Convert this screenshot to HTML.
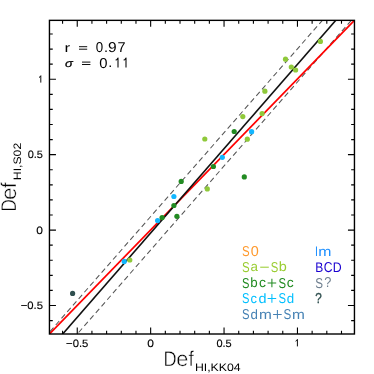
<!DOCTYPE html><html><head><meta charset="utf-8"><style>html,body{margin:0;padding:0;background:#fff;}svg{display:block;will-change:transform}text{text-rendering:geometricPrecision;font-family:"Liberation Sans",sans-serif;}</style></head><body>
<svg width="374" height="374" viewBox="0 0 374 374">
<rect width="374" height="374" fill="#fff"/>
<defs><clipPath id="c"><rect x="49.45" y="20.35" width="305.0" height="313.65"/></clipPath></defs>
<g clip-path="url(#c)" fill="none">
<line x1="30" y1="354.42" x2="370" y2="-34.07" stroke="#565656" stroke-width="1.05" stroke-dasharray="5.3 3.4" stroke-dashoffset="4.4"/>
<line x1="30" y1="388.15" x2="370" y2="-1.10" stroke="#565656" stroke-width="1.05" stroke-dasharray="5.3 3.4" stroke-dashoffset="4.4"/>
<line x1="49.45" y1="334.0" x2="354.45" y2="20.35" stroke="#ff0000" stroke-width="1.75"/>
<line x1="30" y1="371.56" x2="370" y2="-18.98" stroke="#111" stroke-width="1.6"/>
</g>
<circle cx="72.6" cy="293.4" r="2.6" fill="#2f4f4f"/>
<circle cx="124.2" cy="261.4" r="2.6" fill="#12b6ff"/>
<circle cx="129.8" cy="260.0" r="2.6" fill="#8fc93a"/>
<circle cx="157.6" cy="220.6" r="2.6" fill="#12b6ff"/>
<circle cx="162.1" cy="217.6" r="2.6" fill="#228b22"/>
<circle cx="173.9" cy="196.5" r="2.6" fill="#12b6ff"/>
<circle cx="173.9" cy="205.5" r="2.6" fill="#228b22"/>
<circle cx="176.9" cy="216.3" r="2.6" fill="#228b22"/>
<circle cx="181.2" cy="181.4" r="2.6" fill="#228b22"/>
<circle cx="204.8" cy="139.0" r="2.6" fill="#8fc93a"/>
<circle cx="207.3" cy="188.9" r="2.6" fill="#8fc93a"/>
<circle cx="213.4" cy="166.5" r="2.6" fill="#228b22"/>
<circle cx="222.3" cy="157.3" r="2.6" fill="#12b6ff"/>
<circle cx="234.2" cy="131.5" r="2.6" fill="#228b22"/>
<circle cx="242.8" cy="116.6" r="2.6" fill="#8fc93a"/>
<circle cx="244.3" cy="176.9" r="2.6" fill="#228b22"/>
<circle cx="247.3" cy="139.2" r="2.6" fill="#8fc93a"/>
<circle cx="251.6" cy="131.7" r="2.6" fill="#12b6ff"/>
<circle cx="262.1" cy="113.6" r="2.6" fill="#8fc93a"/>
<circle cx="264.9" cy="91.2" r="2.6" fill="#8fc93a"/>
<circle cx="285.5" cy="59.2" r="2.6" fill="#8fc93a"/>
<circle cx="291.3" cy="67.0" r="2.6" fill="#8fc93a"/>
<circle cx="295.6" cy="70.0" r="2.6" fill="#8fc93a"/>
<circle cx="320.4" cy="41.4" r="2.6" fill="#8fc93a"/>
<rect x="49.45" y="20.35" width="305.0" height="313.65" fill="none" stroke="#000" stroke-width="1.4"/>
<path d="M62.57 334.0v-3.3M62.57 20.35v3.3M49.45 320.58h3.3M354.45 320.58h-3.3M77.25 334.0v-6.5M77.25 20.35v6.5M49.45 305.50h6.5M354.45 305.50h-6.5M91.93 334.0v-3.3M91.93 20.35v3.3M49.45 290.41h3.3M354.45 290.41h-3.3M106.61 334.0v-3.3M106.61 20.35v3.3M49.45 275.33h3.3M354.45 275.33h-3.3M121.29 334.0v-3.3M121.29 20.35v3.3M49.45 260.25h3.3M354.45 260.25h-3.3M135.97 334.0v-3.3M135.97 20.35v3.3M49.45 245.16h3.3M354.45 245.16h-3.3M150.65 334.0v-6.5M150.65 20.35v6.5M49.45 230.08h6.5M354.45 230.08h-6.5M165.33 334.0v-3.3M165.33 20.35v3.3M49.45 215.00h3.3M354.45 215.00h-3.3M180.01 334.0v-3.3M180.01 20.35v3.3M49.45 199.91h3.3M354.45 199.91h-3.3M194.69 334.0v-3.3M194.69 20.35v3.3M49.45 184.83h3.3M354.45 184.83h-3.3M209.37 334.0v-3.3M209.37 20.35v3.3M49.45 169.75h3.3M354.45 169.75h-3.3M224.05 334.0v-6.5M224.05 20.35v6.5M49.45 154.67h6.5M354.45 154.67h-6.5M238.73 334.0v-3.3M238.73 20.35v3.3M49.45 139.58h3.3M354.45 139.58h-3.3M253.41 334.0v-3.3M253.41 20.35v3.3M49.45 124.50h3.3M354.45 124.50h-3.3M268.09 334.0v-3.3M268.09 20.35v3.3M49.45 109.42h3.3M354.45 109.42h-3.3M282.77 334.0v-3.3M282.77 20.35v3.3M49.45 94.33h3.3M354.45 94.33h-3.3M297.45 334.0v-6.5M297.45 20.35v6.5M49.45 79.25h6.5M354.45 79.25h-6.5M312.13 334.0v-3.3M312.13 20.35v3.3M49.45 64.17h3.3M354.45 64.17h-3.3M326.81 334.0v-3.3M326.81 20.35v3.3M49.45 49.08h3.3M354.45 49.08h-3.3M341.49 334.0v-3.3M341.49 20.35v3.3M49.45 34.00h3.3M354.45 34.00h-3.3" stroke="#000" stroke-width="1.1" fill="none"/>
<path d="M295.6 341.2L296.8 340.4L297.4 339.4V346.4M39 77.5L40.2 76.7L40.8 75.7V82.6" fill="none" stroke="#000" stroke-width="0.95" stroke-linejoin="round"/>
<text x="77.25" y="346.9" font-size="10.6" text-anchor="middle" textLength="22.3" lengthAdjust="spacingAndGlyphs" stroke="#000" stroke-width="0.12">−0.5</text>
<text x="43.0" y="309.195" font-size="10.6" text-anchor="end" textLength="22.3" lengthAdjust="spacingAndGlyphs" stroke="#000" stroke-width="0.12">−0.5</text>
<text x="150.65" y="346.9" font-size="10.6" text-anchor="middle" textLength="6.7" lengthAdjust="spacingAndGlyphs" stroke="#000" stroke-width="0.12">0</text>
<text x="43.0" y="233.78" font-size="10.6" text-anchor="end" textLength="6.7" lengthAdjust="spacingAndGlyphs" stroke="#000" stroke-width="0.12">0</text>
<text x="224.05" y="346.9" font-size="10.6" text-anchor="middle" textLength="15.3" lengthAdjust="spacingAndGlyphs" stroke="#000" stroke-width="0.12">0.5</text>
<text x="43.0" y="158.365" font-size="10.6" text-anchor="end" textLength="15.3" lengthAdjust="spacingAndGlyphs" stroke="#000" stroke-width="0.12">0.5</text>
<g font-size="13.6">
<text transform="translate(64.58 51.9) scale(1.250 0.94)">r</text>
<text transform="translate(95.81 52.05) scale(0.980 1.05)">0</text>
<text transform="translate(104.07 51.9) scale(1.072 1.0)">.</text>
<text transform="translate(108.00 52.05) scale(1.141 1.05)">9</text>
<text transform="translate(117.62 51.9) scale(1.065 1.05)">7</text>
<text transform="translate(99.27 67.55) scale(1.091 1.05)">0</text>
<text transform="translate(108.17 67.4) scale(1.072 1.0)">.</text>
<text transform="translate(64.97 66.8) scale(0.954 0.8)" font-style="italic" stroke="#000" stroke-width="0.35">σ</text>
</g>
<path d="M79 46.7H87.2M79 49.2H87.2M82 62.1H90.4M82 64.5H90.4" fill="none" stroke="#000" stroke-width="0.95"/>
<path d="M115.7 60.3L117.1 59.4L118 58.05V67.4M123.7 60.3L125.1 59.4L126 58.05V67.4" fill="none" stroke="#000" stroke-width="1.05" stroke-linejoin="round"/>
<g font-size="13.4">
<text transform="translate(241.98 255.80) scale(0.855 1.07)" fill="#ff9a2e">S</text>
<text transform="translate(250.84 255.80) scale(1.077 1.07)" fill="#ff9a2e">0</text>
<text transform="translate(241.98 271.50) scale(0.855 1.07)" fill="#9acd32">S</text>
<text transform="translate(250.44 271.20) scale(1.002 1)" fill="#9acd32">a</text>
<text transform="translate(270.69 271.50) scale(0.842 1.07)" fill="#9acd32">S</text>
<text transform="translate(278.78 271.20) scale(1.078 1)" fill="#9acd32">b</text>
<text transform="translate(242.00 287.50) scale(0.829 1.07)" fill="#228b22">S</text>
<text transform="translate(250.15 287.20) scale(0.995 1)" fill="#228b22">b</text>
<text transform="translate(259.02 287.20) scale(1.036 1)" fill="#228b22">c</text>
<text transform="translate(278.39 287.50) scale(0.842 1.07)" fill="#228b22">S</text>
<text transform="translate(286.82 287.20) scale(1.036 1)" fill="#228b22">c</text>
<text transform="translate(242.00 303.20) scale(0.829 1.07)" fill="#00bfff">S</text>
<text transform="translate(250.46 302.90) scale(0.967 1)" fill="#00bfff">c</text>
<text transform="translate(258.49 302.90) scale(1.078 1)" fill="#00bfff">d</text>
<text transform="translate(278.39 303.20) scale(0.842 1.07)" fill="#00bfff">S</text>
<text transform="translate(286.84 302.90) scale(0.995 1)" fill="#00bfff">d</text>
<text transform="translate(241.99 318.90) scale(0.842 1.07)" fill="#4682b4">S</text>
<text transform="translate(250.44 318.60) scale(0.995 1)" fill="#4682b4">d</text>
<text transform="translate(258.98 318.60) scale(1.150 1)" fill="#4682b4">m</text>
<text transform="translate(283.58 318.90) scale(0.868 1.07)" fill="#4682b4">S</text>
<text transform="translate(292.08 318.60) scale(1.150 1)" fill="#4682b4">m</text>
<text transform="translate(315.12 255.80) scale(0.794 1.03)" fill="#1e90ff">I</text>
<text transform="translate(318.15 255.80) scale(1.182 1)" fill="#1e90ff">m</text>
<text transform="translate(315.21 271.70) scale(0.898 1.03)" fill="#1a00d0">B</text>
<text transform="translate(323.68 272.00) scale(0.908 1.07)" fill="#1a00d0">C</text>
<text transform="translate(332.69 271.70) scale(0.920 1.03)" fill="#1a00d0">D</text>
<text transform="translate(315.28 287.50) scale(0.868 1.07)" fill="#708090">S</text>
<text transform="translate(324.18 287.20) scale(0.952 1.07)" fill="#708090">?</text>
<text transform="translate(315.32 302.70) scale(0.874 1.07)" fill="#2f4f4f" stroke="#2f4f4f" stroke-width="0.35">?</text>
</g>
<path d="M260.2 267.2H268.8" stroke="#9acd32" stroke-width="1.05" fill="none"/>
<path d="M267.6 283.0H276.2M271.9 278.7V287.3" stroke="#228b22" stroke-width="1.05" fill="none"/>
<path d="M267.6 298.4H276.2M271.9 294.1V302.7" stroke="#00bfff" stroke-width="1.05" fill="none"/>
<path d="M273.1 314.4H281.7M277.4 310.1V318.7" stroke="#4682b4" stroke-width="1.05" fill="none"/>
<text transform="translate(163.41 366.1) scale(0.849 1)" font-size="21.4" stroke="#fff" stroke-width="0.45">D</text>
<text transform="translate(176.29 366.1) scale(1.014 1)" font-size="21.4" stroke="#fff" stroke-width="0.45">e</text>
<text transform="translate(188.48 366.1) scale(0.908 1)" font-size="21.4" stroke="#fff" stroke-width="0.45">f</text>
<text x="194.9" y="371.1" font-size="10.8" textLength="45.8" lengthAdjust="spacingAndGlyphs">HI,KK04</text>
<g transform="rotate(-90)">
<text transform="translate(-211.59 16.1) scale(0.789 1)" font-size="21.4" stroke="#fff" stroke-width="0.45">D</text>
<text transform="translate(-200.04 16.1) scale(1.044 1)" font-size="21.4" stroke="#fff" stroke-width="0.45">e</text>
<text transform="translate(-187.99 16.1) scale(0.979 1)" font-size="21.4" stroke="#fff" stroke-width="0.45">f</text>
<text x="-180.2" y="21.3" font-size="10.8" textLength="37.4" lengthAdjust="spacingAndGlyphs">HI,S02</text>
</g>
</svg></body></html>
